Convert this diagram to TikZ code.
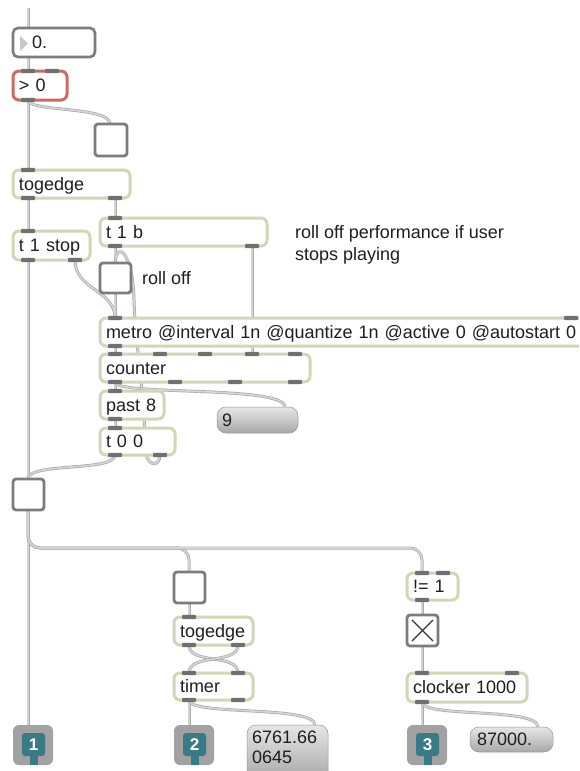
\documentclass[tikz,border=0pt]{standalone}
\usepackage{fontspec}
\setmainfont{Liberation Sans}
\usetikzlibrary{calc}
\pgfdeclarelayer{bgpaper}
\pgfdeclarelayer{cords}
\pgfsetlayers{bgpaper,cords,main}
\definecolor{objb}{HTML}{D4D5B6}
\definecolor{portc}{HTML}{707070}
\definecolor{redb}{HTML}{CC6B63}
\definecolor{grayb}{HTML}{7C7C7C}
\definecolor{cordedge}{HTML}{ABABAB}
\definecolor{cordin}{HTML}{D4D4D4}
\definecolor{txt}{HTML}{1E1E1E}
\definecolor{tealc}{HTML}{387A85}
\definecolor{outg}{HTML}{A2A2A2}
\definecolor{nbtop}{HTML}{E6E6E6}
\definecolor{nbbot}{HTML}{A8A8A8}
\tikzset{
  pbase/.style={anchor=north west, outer sep=0pt, inner xsep=6pt, inner ysep=0pt,
    align=left, text height=14pt, text depth=2pt,
    font=\fontsize{18}{21}\selectfont, text=txt},
  obj/.style={pbase, draw=objb, fill=white, line width=3pt, rounded corners=6pt},
  redobj/.style={pbase, draw=redb, fill=white, line width=3pt, rounded corners=6pt},
  numb/.style={pbase, draw=grayb, fill=white, line width=2.6pt, rounded corners=5pt},
  tgl/.style={pbase, draw=grayb, fill=white, line width=2.8pt, rounded corners=3pt},
  nbox/.style={pbase, top color=nbtop, bottom color=nbbot, draw=nbbot!90!black, line width=0.5pt, rounded corners=9pt},
  outb/.style={pbase, fill=outg, rounded corners=6pt},
  ntext/.style={anchor=base west, inner sep=0pt, font=\fontsize{18}{21}\selectfont, text=txt},
  onum/.style={inner sep=0pt, font=\fontsize{17}{19}\selectfont\bfseries, text=white},
  cord/.style={draw=cordedge, line width=0.7pt, double=cordin, double distance=1.6pt},
}
\newcommand\mxbox[7]{%
  \pgfmathsetlengthmacro\mxw{#4-#2}%
  \pgfmathsetlengthmacro\mxtw{#4-#2-12}%
  \pgfmathsetlengthmacro\mxh{#5-#3}%
  \node[#1, text width=\mxtw, minimum width=\mxw, minimum height=\mxh] (#6) at (#2,#3) {#7};}
\newcommand\mxport[2]{\coordinate (#1) at (#2);
  \fill[portc, rounded corners=1pt] ($(#1)+(-7,-2.2)$) rectangle ($(#1)+(7,2.2)$);}
\newcommand\mxoutdeco[2]{%
  \fill[tealc, rounded corners=3pt] ($(#1.north west)+(9,8)$) rectangle ($(#1.north west)+(32,31)$);
  \fill[tealc] ($(#1.north west)+(16.5,29)$) rectangle ($(#1.north west)+(24.5,40)$);
  \node[onum] (#1-n) at ($(#1.north west)+(20.5,19.5)$) {#2};}
\begin{document}
\begin{tikzpicture}[x=1pt,y=-1pt]
\useasboundingbox (0,0) rectangle (579,771);
\begin{pgfonlayer}{bgpaper}
\fill[white] (0,0) rectangle (579,771);
\end{pgfonlayer}
\clip (0,0) rectangle (579,771);

% ---------- boxes ----------
\mxbox{numb}{13}{28}{95}{57}{num0}{}
\mxbox{redobj}{13}{71}{67}{100}{gt0}{> 0}
\mxbox{tgl}{95}{124}{127}{156}{tg1}{}
\mxbox{obj}{13}{170}{130}{198}{togA}{togedge}
\mxbox{obj}{13}{231}{90}{260}{tstop}{t 1 stop}
\mxbox{obj}{100}{218}{267}{246}{tb}{t 1 b}
\mxbox{tgl}{100}{263}{131}{293}{roll}{}
\mxbox{obj}{100}{318}{586}{346}{metro}{metro @interval 1n @quantize 1n @active 0 @autostart 0}
\mxbox{obj}{100}{354}{310}{382}{counter}{counter}
\mxbox{obj}{100}{391}{164}{419}{past}{past 8}
\mxbox{nbox}{217}{407}{298}{433}{nine}{}
\mxbox{obj}{100}{428}{175}{455}{tzz}{t 0 0}
\mxbox{tgl}{13}{479}{44}{510}{bt}{}
\mxbox{tgl}{174}{572}{205}{603}{tg2}{}
\mxbox{obj}{174}{617}{253}{645}{togB}{togedge}
\mxbox{obj}{174}{673}{253}{700}{timer}{timer}
\mxbox{nbox}{247}{725}{328}{780}{big}{}
\mxbox{obj}{407}{573}{458}{600}{neq}{!= 1}
\mxbox{tgl}{407}{615}{438}{646}{tgx}{}
\mxbox{obj}{407}{673}{527}{702}{clk}{clocker 1000}
\mxbox{nbox}{470}{727}{553}{752}{n87}{}
\mxbox{outb}{13}{725}{53}{765}{out1}{}
\mxbox{outb}{174}{725}{214}{765}{out2}{}
\mxbox{outb}{407}{725}{447}{765}{out3}{}

% ---------- box decorations ----------
\fill[gray!45] ($(num0.north west)+(7,8)$) -- ($(num0.north west)+(7,23)$) -- ($(num0.north west)+(15,15.5)$) -- cycle;
\node[ntext] (num0-t) at (32,48) {0.};
\node[ntext] (nine-t) at (222,426) {9};
\node[ntext] (big-t1) at (252,743) {6761.66};
\node[ntext] (big-t2) at (252,763) {0645};
\node[ntext] (n87-t) at (477,745) {87000.};
\draw[line width=1.3pt, black!80] ($(tgx.north west)+(5,5)$) -- ($(tgx.south east)+(-5,-5)$);
\draw[line width=1.3pt, black!80] ($(tgx.north east)+(-5,5)$) -- ($(tgx.south west)+(5,-5)$);
\mxoutdeco{out1}{1}
\mxoutdeco{out2}{2}
\mxoutdeco{out3}{3}

% ---------- comments ----------
\node[ntext] (cm1) at (295,238) {roll off performance if user};
\node[ntext] (cm2) at (295,260) {stops playing};
\node[ntext] (cm3) at (142,284) {roll off};

% ---------- ports ----------
\coordinate (num0-i) at ([xshift=15pt]num0.north west);
\coordinate (num0-o) at ([xshift=15pt]num0.south west);
\coordinate (tg1-i) at ([xshift=15pt]tg1.north west);
\coordinate (roll-i) at ([xshift=15pt]roll.north west);
\coordinate (roll-o) at ([xshift=15pt]roll.south west);
\coordinate (bt-i) at ([xshift=15pt]bt.north west);
\coordinate (bt-o) at ([xshift=15pt]bt.south west);
\coordinate (tg2-i) at ([xshift=15pt]tg2.north west);
\coordinate (tg2-o) at ([xshift=15pt]tg2.south west);
\coordinate (tgx-i) at ([xshift=15pt]tgx.north west);
\coordinate (tgx-o) at ([xshift=15pt]tgx.south west);
\coordinate (nine-i) at ([xshift=-13pt]nine.north east);
\coordinate (big-i) at ([xshift=-13pt]big.north east);
\coordinate (n87-i) at ([xshift=-15pt]n87.north east);
\coordinate (out1-i) at ([xshift=15pt]out1.north west);
\coordinate (out2-i) at ([xshift=15pt]out2.north west);
\coordinate (out3-i) at ([xshift=15pt]out3.north west);

\mxport{gt0-i1}{[xshift=15pt]gt0.north west}
\mxport{gt0-i2}{[xshift=-15pt]gt0.north east}
\mxport{gt0-o}{[xshift=15pt]gt0.south west}
\mxport{togA-i}{[xshift=15pt]togA.north west}
\mxport{togA-o1}{[xshift=15pt]togA.south west}
\mxport{togA-o2}{[xshift=-15pt]togA.south east}
\mxport{tstop-i}{[xshift=15pt]tstop.north west}
\mxport{tstop-o1}{[xshift=15pt]tstop.south west}
\mxport{tstop-o2}{[xshift=-15pt]tstop.south east}
\mxport{tb-i}{[xshift=15pt]tb.north west}
\mxport{tb-o1}{[xshift=15pt]tb.south west}
\mxport{tb-o2}{[xshift=-15pt]tb.south east}
\mxport{metro-i1}{[xshift=15pt]metro.north west}
\mxport{metro-i2}{[xshift=-15pt]metro.north east}
\mxport{metro-o}{[xshift=15pt]metro.south west}
\mxport{counter-i1}{[xshift=15pt]counter.north west}
\mxport{counter-i2}{[xshift=60pt]counter.north west}
\mxport{counter-i3}{[xshift=105pt]counter.north west}
\mxport{counter-i4}{[xshift=152pt]counter.north west}
\mxport{counter-i5}{[xshift=195pt]counter.north west}
\mxport{counter-o1}{[xshift=15pt]counter.south west}
\mxport{counter-o2}{[xshift=75pt]counter.south west}
\mxport{counter-o3}{[xshift=135pt]counter.south west}
\mxport{counter-o4}{[xshift=195pt]counter.south west}
\mxport{past-i}{[xshift=15pt]past.north west}
\mxport{past-o}{[xshift=15pt]past.south west}
\mxport{tzz-i}{[xshift=15pt]tzz.north west}
\mxport{tzz-o1}{[xshift=15pt]tzz.south west}
\mxport{tzz-o2}{[xshift=-15pt]tzz.south east}
\mxport{togB-i}{[xshift=15pt]togB.north west}
\mxport{togB-o1}{[xshift=15pt]togB.south west}
\mxport{togB-o2}{[xshift=-15pt]togB.south east}
\mxport{timer-i1}{[xshift=15pt]timer.north west}
\mxport{timer-i2}{[xshift=-15pt]timer.north east}
\mxport{timer-o1}{[xshift=15pt]timer.south west}
\mxport{timer-o2}{[xshift=-15pt]timer.south east}
\mxport{neq-i1}{[xshift=15pt]neq.north west}
\mxport{neq-i2}{[xshift=-15pt]neq.north east}
\mxport{neq-o}{[xshift=15pt]neq.south west}
\mxport{clk-i1}{[xshift=15pt]clk.north west}
\mxport{clk-i2}{[xshift=-15pt]clk.north east}
\mxport{clk-o1}{[xshift=15pt]clk.south west}

% ---------- cords ----------
\coordinate (src0) at (28,8);
\begin{pgfonlayer}{cords}
\draw[cord] (src0) -- (num0-i);
\draw[cord] (num0-o) -- (gt0-i1);
\draw[cord] (gt0-o) -- (togA-i);
\draw[cord] (gt0-o) .. controls +(0,12) and +(0,-18) .. (tg1-i);
\draw[cord] (togA-o1) -- (tstop-i);
\draw[cord] (togA-o2) -- (tb-i);
\draw[cord] (tstop-o1) -- (out1-i);
\draw[cord] (tstop-o2) .. controls +(0,30) and +(0,-28) .. (metro-i1);
\draw[cord] (tb-o1) -- (roll-i);
\draw[cord] (tb-o2) -- (counter-i4);
\draw[cord] (roll-o) -- (metro-i1);
\draw[cord] (metro-o) -- (counter-i1);
\draw[cord] (counter-o1) -- (past-i);
\draw[cord] (counter-o1) .. controls +(0,14) and +(0,-22) .. (nine-i);
\draw[cord] (past-o) -- (tzz-i);
\draw[cord] (tzz-o2) .. controls +(0,13) and +(0,23) .. ($(tzz-o2)+(-15,-10)$)
   .. controls +(0,-45) and +(1,40) .. ($(roll-i)+(19,37)$)
   .. controls +(-1,-45) and +(2,-25) .. (roll-i);
\draw[cord] (tzz-o1) .. controls +(0,17) and +(0,-17) .. (bt-i);
\draw[cord, rounded corners=12pt] (bt-o) |- ($(tg2-i)+(0,-24)$) -- (tg2-i);
\draw[cord, rounded corners=12pt] (bt-o) |- ($(neq-i1)+(0,-25)$) -- (neq-i1);
\draw[cord] (tg2-o) -- (togB-i);
\draw[cord] (togB-o1) .. controls +(0,20) and +(0,-20) .. (timer-i2);
\draw[cord] (togB-o2) .. controls +(0,20) and +(0,-20) .. (timer-i1);
\draw[cord] (timer-o1) -- (out2-i);
\draw[cord] (timer-o1) .. controls +(0,16) and +(0,-20) .. (big-i);
\draw[cord] (neq-o) -- (tgx-i);
\draw[cord] (tgx-o) -- (clk-i1);
\draw[cord] (clk-o1) -- (out3-i);
\draw[cord] (clk-o1) .. controls +(0,16) and +(0,-20) .. (n87-i);
\end{pgfonlayer}
\end{tikzpicture}
\end{document}
